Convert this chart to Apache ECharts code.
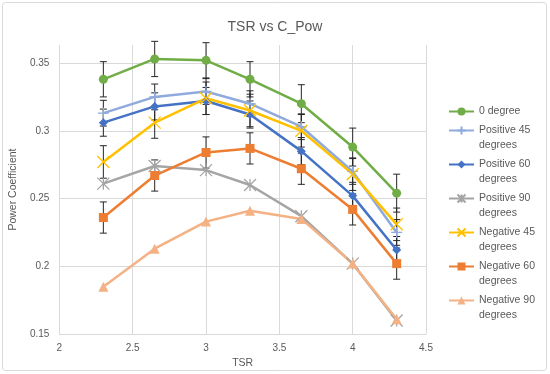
<!DOCTYPE html>
<html>
<head>
<meta charset="utf-8">
<script src="https://cdn.jsdelivr.net/npm/echarts@6/dist/echarts.min.js"></script>
<style>html,body{margin:0;padding:0;background:#fff}#c{width:550px;height:374px}</style>
</head>
<body>
<div id="c"></div>
<script>
// ---- data ----
const tsr = [2.3, 2.65, 3, 3.3, 3.65, 4, 4.3];
const seriesNames = ['0 degree', 'Positive 45 degrees', 'Positive 60 degrees', 'Positive 90 degrees',
  'Negative 45 degrees', 'Negative 60 degrees', 'Negative 90 degrees'];
const deg0  = [0.338, 0.353, 0.352, 0.338, 0.320, 0.288, 0.254];
const pos45 = [0.313, 0.325, 0.329, 0.320, 0.303, 0.270, 0.225];
const pos60 = [0.306, 0.318, 0.322, 0.312, 0.285, 0.252, 0.212];
const pos90 = [0.261, 0.274, 0.271, 0.260, 0.237, 0.202, 0.160];
const neg45 = [0.277, 0.306, 0.324, 0.315, 0.300, 0.268, 0.231];
const neg60 = [0.236, 0.267, 0.284, 0.287, 0.272, 0.242, 0.202];
const neg90 = [0.185, 0.213, 0.233, 0.241, 0.235, 0.202, 0.161];
// error bar half-widths (null = no error bars)
const err0  = [0.013, 0.013, 0.013, 0.013, 0.014, 0.014, 0.014];
const errP45 = [0.0095, 0.0095, 0.0095, 0.0095, 0.0095, 0.0095, 0.0095];
const errP60 = [0.010, 0.010, 0.010, 0.010, 0.010, 0.010, 0.010];
const errN45 = [0.012, 0.0115, 0.012, 0.012, 0.012, 0.012, 0.012];
const errN60 = [0.0115, 0.0115, 0.0115, 0.0115, 0.0115, 0.0115, 0.0115];
const xTicks = [2, 2.5, 3, 3.5, 4, 4.5];
const yTicks = [0.15, 0.2, 0.25, 0.3, 0.35];

const values = [deg0, pos45, pos60, pos90, neg45, neg60, neg90];
const errors = [err0, errP45, errP60, null, errN45, errN60, null];
const colors = ['#70AD47', '#8FAADC', '#4472C4', '#A5A5A5', '#FFC000', '#ED7D31', '#F4B183'];
const plusPath = 'path://M5,0 L5,10 M0,5 L10,5';
const xPath = 'path://M0,0 L10,10 M10,0 L0,10';
const starPath = 'path://M0,0 L10,10 M10,0 L0,10 M5,0 L5,10';
const symbols = ['circle', plusPath, 'diamond', starPath, xPath, 'rect', 'triangle'];
const symSizes = [9, 11, 9, 12, 12, 9, 10];
const strokeSym = [false, true, false, true, true, false, false];

const font = 'Liberation Sans, Arial, sans-serif';
const txt = '#595959';

const series = [];
values.forEach((vals, i) => {
  const e = errors[i];
  if (e) {
    series.push({
      type: 'custom', name: 'err' + i, z: 1, silent: true,
      data: tsr.map((x, k) => [x, vals[k], e[k]]),
      encode: { x: 0, y: 1 },
      renderItem: function (params, api) {
        const x = api.value(0), y = api.value(1), d = api.value(2);
        const t = api.coord([x, y + d]), b = api.coord([x, y - d]);
        const w = 3.5, st = { stroke: '#262626', lineWidth: 1 };
        return { type: 'group', children: [
          { type: 'line', shape: { x1: t[0], y1: t[1], x2: b[0], y2: b[1] }, style: st },
          { type: 'line', shape: { x1: t[0] - w, y1: t[1], x2: t[0] + w, y2: t[1] }, style: st },
          { type: 'line', shape: { x1: b[0] - w, y1: b[1], x2: b[0] + w, y2: b[1] }, style: st }
        ] };
      }
    });
  }
});
values.forEach((vals, i) => {
  series.push({
    type: 'line', name: seriesNames[i], z: 3,
    data: tsr.map((x, k) => [x, vals[k]]),
    symbol: symbols[i], symbolSize: symSizes[i], showAllSymbol: true,
    lineStyle: { color: colors[i], width: 2.5 },
    itemStyle: strokeSym[i]
      ? { color: colors[i], borderColor: colors[i], borderWidth: 1.3 }
      : { color: colors[i], borderWidth: 0 },
    emphasis: { disabled: true },
    animation: false
  });
});

const chart = echarts.init(document.getElementById('c'), null, { renderer: 'canvas' });
chart.setOption({
  animation: false,
  title: { text: 'TSR vs C_Pow', left: 'center', top: 15,
    textStyle: { fontFamily: font, fontSize: 14, fontWeight: 'normal', color: txt } },
  graphic: [{ type: 'rect', shape: { x: 2.5, y: 2.5, width: 544, height: 368, r: 3 },
    style: { fill: 'none', stroke: '#D9D9D9', lineWidth: 1 }, z: -1 }],
  legend: {
    orient: 'vertical', left: 448, top: 104, itemGap: -11, padding: 0,
    itemWidth: 25, itemHeight: 10,
    formatter: n => n.indexOf(' degrees') >= 0 ? '\n' + n.replace(' degrees', '\ndegrees') : n,
    textStyle: { fontFamily: font, fontSize: 10.5, color: txt, lineHeight: 15 },
    data: seriesNames
  },
  grid: { left: 58, right: 124, top: 45, bottom: 34 },
  xAxis: {
    type: 'value', min: xTicks[0], max: xTicks[xTicks.length - 1], interval: 0.5,
    name: 'TSR', nameLocation: 'middle', nameGap: 17,
    nameTextStyle: { fontFamily: font, fontSize: 10.5, color: txt },
    axisLine: { show: true, lineStyle: { color: '#D9D9D9', width: 1 } },
    axisTick: { show: false },
    axisLabel: { fontFamily: font, fontSize: 10, color: txt, margin: 9 },
    splitLine: { show: true, lineStyle: { color: '#D9D9D9', width: 1 } }
  },
  yAxis: {
    type: 'value', min: yTicks[0], max: 0.3633, interval: 0.05,
    name: 'Power Coefficient', nameLocation: 'middle', nameGap: 32,
    nameTextStyle: { fontFamily: font, fontSize: 10.5, color: txt },
    axisLine: { show: false }, axisTick: { show: false },
    axisLabel: { fontFamily: font, fontSize: 10, color: txt, margin: 10, showMaxLabel: false,
      formatter: v => yTicks.some(t => Math.abs(t - v) < 1e-9) ? String(+v.toFixed(2)) : '' },
    splitLine: { show: true, showMaxLine: false, lineStyle: { color: '#D9D9D9', width: 1 } }
  },
  series: series
});
</script>
</body>
</html>
